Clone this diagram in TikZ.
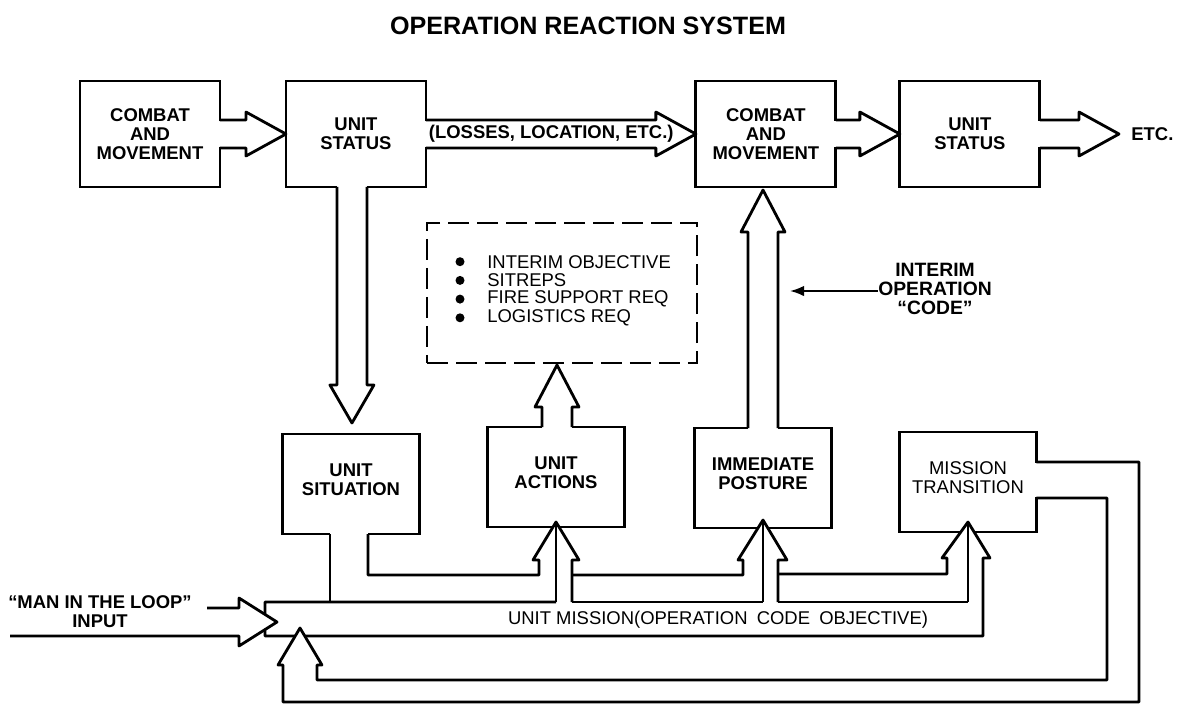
\documentclass[tikz,border=0pt]{standalone}
\usepackage{fontspec}
\setmainfont{Liberation Sans}
\usepackage{tikz}
\usetikzlibrary{arrows.meta, positioning, calc}

\begin{document}
\begin{tikzpicture}[
    x=0.02cm, y=-0.02cm,
    box/.style={rectangle, draw, line width=1.6pt, outer sep=0pt, inner sep=0pt, minimum width=2.8cm, minimum height=2.12cm, align=center, font=\fontsize{10.5}{10.8}\selectfont\bfseries},
    lowbox/.style={box, minimum width=2.74cm, minimum height=2cm, text depth=5.5pt},
    listbox/.style={rectangle, draw, line width=1.5pt, dash pattern=on 12pt off 4.5pt, outer sep=0pt, minimum width=5.4cm, minimum height=2.8cm},
    boldtext/.style={align=center, inner sep=0pt, font=\fontsize{10.5}{10.8}\selectfont\bfseries},
    lighttext/.style={align=center, inner sep=0pt, font=\fontsize{10.5}{10.5}\selectfont},
    pipe/.style={line width=1.6pt, line join=round},
    arrow/.style={-{Latex[length=8pt, width=6pt]}, line width=1.1pt}
]
\useasboundingbox (0,0) rectangle (1177,704);

% Title
\node[font=\fontsize{14.3}{14}\selectfont\bfseries] (title) at (588,26) {OPERATION REACTION SYSTEM};

% Top row
\node[box] (cmA) at (150,134) {COMBAT\\AND\\MOVEMENT};
\node[box, right=1.32cm of cmA] (usA) {UNIT\\STATUS};
\node[box, right=5.4cm of usA] (cmB) {COMBAT\\AND\\MOVEMENT};
\node[box, right=1.28cm of cmB] (usB) {UNIT\\STATUS};
\node[boldtext, anchor=west, inner xsep=0.24cm] (etc) at (1119,134) {ETC.};

% Lower row
\node[lowbox] (sit) at (351,484) {UNIT\\SITUATION};
\node[lowbox] (act) at (556,477) {UNIT\\ACTIONS};
\node[lowbox] (post) at (763,478) {IMMEDIATE\\POSTURE};
\node[lowbox, font=\fontsize{10.5}{10.8}\selectfont] (trans) at (968,482) {MISSION\\TRANSITION};

% Reports
\node[listbox] (list) at (562,293) {};
\foreach \t [count=\i] in {INTERIM OBJECTIVE, SITREPS, FIRE SUPPORT REQ, LOGISTICS REQ} {
  \node[lighttext, anchor=west] (item\i) at (487,{243+18.7*\i}) {\t};
  \fill ($(item\i.west)+(-27,0)$) circle (4.5);
}

% Block arrows, top row
\foreach \a/\b in {cmA/usA, usA/cmB, cmB/usB, usB/etc} {
  \fill[white] ($(\a.east)+(-2,-13)$) rectangle ($(\a.east)+(2,13)$);
  \draw[pipe] ($(\a.east)+(0,-14)$) -| ($(\b.west)+(-40,-22)$) -- (\b.west) -- ($(\b.west)+(-40,22)$) |- ($(\a.east)+(0,14)$);
}
\node[boldtext, anchor=west] (losses) at ([xshift=1.5pt]usA.east) {(LOSSES, LOCATION, ETC.)};

% Status down to situation
\fill[white] ($(usA.south)+(-19,-2)$) rectangle ($(usA.south)+(11,2)$);
\draw[pipe] ($(usA.south)+(-19,0)$) -- ++(0,198) -- ++(-7,0) -- ++(22,38) -- ++(22,-38) -- ++(-7,0) -- ++(0,-198);

% Actions up to reports
\fill[white] ($(act.north)+(-14,-2)$) rectangle ($(act.north)+(16,2)$);
\draw[pipe] ($(act.north)+(-14,0)$) -- ++(0,-20) -- ++(-7,0) -- ++(22,-42) -- ++(22,42) -- ++(-7,0) -- ++(0,20);

% Posture up to combat and movement
\fill[white] ($(post.north)+(-15,-2)$) rectangle ($(post.north)+(15,2)$);
\draw[pipe] ($(post.north)+(-15,0)$) -- ++(0,-196) -- ++(-7,0) -- ++(22,-42) -- ++(22,42) -- ++(-7,0) -- ++(0,196);

% Interim code
\node[boldtext, font=\fontsize{11}{10.8}\selectfont\bfseries] (code) at (935,289) {INTERIM\\OPERATION\\``CODE''};
\coordinate (codetip) at (790,291);
\draw[arrow] (code.west |- codetip) -- (codetip);

% Unit mission band and feeds
\fill[white] ($(sit.south)+(-21,-2)$) rectangle ($(sit.south)+(17,2)$);
\fill[white] ($(trans.east)+(-2,-19)$) rectangle ($(trans.east)+(2,15)$);
\fill[white] (533,560) -- (556,522) -- (579,560) -- cycle;
\fill[white] (738,560) -- (763,520) -- (787,560) -- cycle;
\fill[white] (942,558) -- (968,522) -- (990,558) -- cycle;

\draw[pipe] ($(sit.south)+(-21,0)$) -- (330,602);
\draw[pipe] ($(sit.south)+(17,0)$) |- (539,575) -- (539,560) -- (533,560) -- (556,522) -- (579,560) -- (572,560) -- (572,602);
\draw[pipe] (572,575) -- (743,575) -- (743,560) -- (738,560) -- (763,520) -- (787,560) -- (778,560) -- (778,602);
\draw[pipe] (778,574) -- (947,574) -- (947,558) -- (942,558) -- (968,522) -- (990,558) -- (983,558) -- (983,636) -- (265,636) -- (265,602) -- (556,602);
\draw[pipe] (572,602) -- (763,602) (778,602) -- (968,602);
\draw[pipe] (556,522) -- (556,602) (763,520) -- (763,602) (968,522) -- (968,602);

\node[lighttext] (mission) at (718,620) {UNIT MISSION(OPERATION\enspace CODE\enspace OBJECTIVE)};

% Man in the loop input and return loop
\fill[white] (239,598) -- (277,622) -- (239,646) -- cycle;
\fill[white] (278,665) -- (300,628) -- (322,665) -- cycle;
\draw[pipe] (207,608) -- (239,608) -- (239,598) -- (277,622) -- (239,646) -- (239,636) -- (10,636);
\draw[pipe] ($(trans.east)+(0,-20)$) -| (1139,702) -| (283,665) -- (278,665) -- (300,628) -- (322,665) -- (317,665) |- (1107,680) |- ($(trans.east)+(0,16)$);

\node[boldtext] (man) at (100,612) {``MAN IN THE LOOP''\\INPUT};

\end{tikzpicture}
\end{document}
